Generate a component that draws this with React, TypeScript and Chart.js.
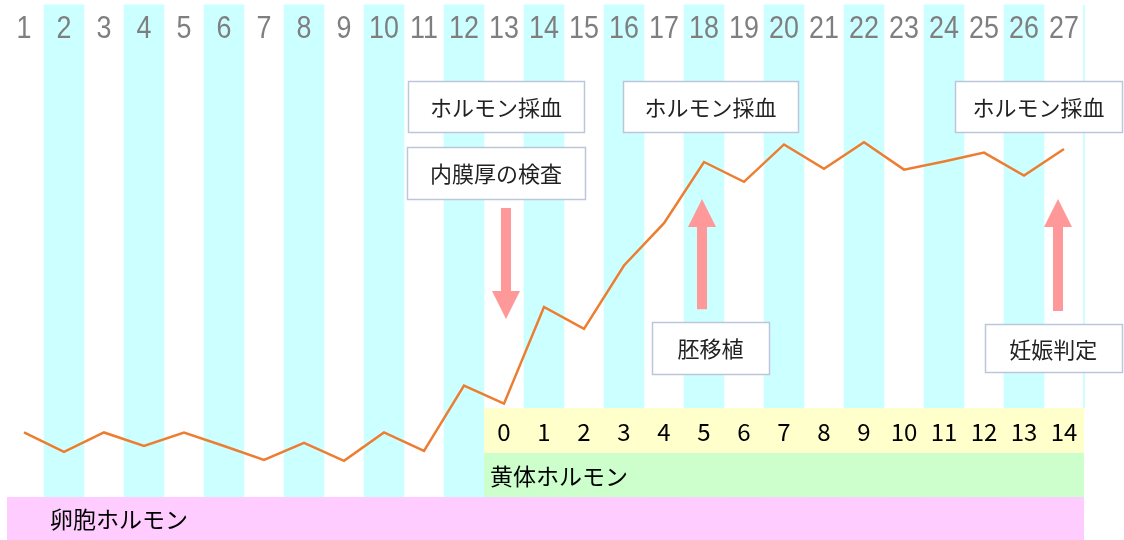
import React, { useEffect, useRef } from 'react';
import { Chart, registerables } from 'chart.js';

Chart.register(...registerables);

// ---- data ----
const DAYS = ['1', '2', '3', '4', '5', '6', '7', '8', '9', '10', '11', '12', '13', '14', '15', '16', '17', '18', '19', '20', '21', '22', '23', '24', '25', '26', '27'];
const HORMONE_LEVEL = [23.9, 19.6, 23.9, 20.9, 23.9, 20.9, 17.8, 21.6, 17.6, 23.9, 19.8, 34.3, 30.3, 51.8, 46.9, 61.0, 70.4, 84.0, 79.6, 87.9, 82.5, 88.4, 82.3, 84.1, 86.1, 81.0, 86.9];
const LUTEAL_DAYS = ['0', '1', '2', '3', '4', '5', '6', '7', '8', '9', '10', '11', '12', '13', '14'];
const LUTEAL_START_INDEX = 12; // day 13
const FOLLICULAR_LABEL = '卵胞ホルモン';
const LUTEAL_LABEL = '黄体ホルモン';
const EVENT_TEXTS = ['ホルモン採血', '内膜厚の検査', 'ホルモン採血', 'ホルモン採血', '胚移植', '妊娠判定'];

// ---- layout (in scale units: x = day index, y = level) ----
const Y_MAX = 120;
const STRIPE_RANGE: [number, number] = [9.56, 118.9];
const YELLOW_RANGE: [number, number] = [19.33, 29.33];
const GREEN_RANGE: [number, number] = [9.56, 19.33];
const PINK_RANGE: [number, number] = [0, 9.56];
const TOP_LABEL_LEVEL = 114;

const BOX_LAYOUT = [
  { cx: 11.8, cy: 96.33, w: 176, h: 51 },
  { cx: 11.8, cy: 81.56, w: 178, h: 52 },
  { cx: 17.16, cy: 96.33, w: 175, h: 51 },
  { cx: 25.36, cy: 96.33, w: 167, h: 51 },
  { cx: 17.16, cy: 42.67, w: 117, h: 52 },
  { cx: 25.73, cy: 42.56, w: 137, h: 48 },
];
const ARROWS = [
  { x: 12.05, from: 73.8, to: 49.1 },
  { x: 16.95, from: 51.3, to: 75.8 },
  { x: 25.85, from: 50.9, to: 75.8 },
];

const CJK = '"Noto Sans CJK JP", "Noto Sans", sans-serif';

const overlay = {
  id: 'overlay',
  afterDatasetDraw(chart: any, args: any) {
    if (args.index !== 1) return;
    const { ctx } = chart;
    const xs = chart.scales.x;
    const ys = chart.scales.y;
    const half = (xs.getPixelForValue(1) - xs.getPixelForValue(0)) / 2;
    const lx = xs.getPixelForValue(LUTEAL_START_INDEX) - half;
    const rx = xs.getPixelForValue(DAYS.length - 1) + half;
    const fx = xs.getPixelForValue(0) - half + 3;
    ctx.save();
    // thin edge of the next stripe at the right border
    ctx.fillStyle = '#CCFFFF';
    const st = ys.getPixelForValue(STRIPE_RANGE[1]);
    ctx.fillRect(rx - 1, st, 2, ys.getPixelForValue(YELLOW_RANGE[1]) - st);
    const band = (x0: number, r: [number, number], color: string) => {
      const y0 = ys.getPixelForValue(r[1]);
      const y1 = ys.getPixelForValue(r[0]);
      ctx.fillStyle = color;
      ctx.fillRect(x0, y0, rx - x0, y1 - y0);
    };
    band(lx, YELLOW_RANGE, '#FFFFCC');
    band(lx, GREEN_RANGE, '#CCFFCC');
    band(fx, PINK_RANGE, '#FFCCFF');

    // luteal day labels
    ctx.fillStyle = '#000';
    ctx.font = '24px ' + CJK;
    ctx.textAlign = 'center';
    ctx.textBaseline = 'middle';
    const ly = ys.getPixelForValue((YELLOW_RANGE[0] + YELLOW_RANGE[1]) / 2);
    LUTEAL_DAYS.forEach((t, i) => {
      ctx.fillText(t, xs.getPixelForValue(LUTEAL_START_INDEX + i), ly + 1);
    });
    // band texts
    ctx.textAlign = 'left';
    ctx.font = '23px ' + CJK;
    ctx.fillText(LUTEAL_LABEL, lx + 6, ys.getPixelForValue((GREEN_RANGE[0] + GREEN_RANGE[1]) / 2) + 1);
    ctx.fillText(FOLLICULAR_LABEL, 50, ys.getPixelForValue((PINK_RANGE[0] + PINK_RANGE[1]) / 2) + 1);
    ctx.restore();
  },
  afterDatasetsDraw(chart: any) {
    const { ctx } = chart;
    const xs = chart.scales.x;
    const ys = chart.scales.y;
    ctx.save();
    // top day labels
    ctx.fillStyle = '#7F7F7F';
    ctx.font = '32px "Liberation Sans", Arial, sans-serif';
    ctx.textAlign = 'center';
    ctx.textBaseline = 'middle';
    const ty = ys.getPixelForValue(TOP_LABEL_LEVEL);
    DAYS.forEach((d, i) => {
      ctx.save();
      ctx.translate(xs.getPixelForValue(i), ty + 2);
      ctx.scale(0.84, 1);
      ctx.fillText(d, 0, 0);
      ctx.restore();
    });

    // arrows
    ctx.fillStyle = '#FF9999';
    ARROWS.forEach((a) => {
      const x = xs.getPixelForValue(a.x);
      const y0 = ys.getPixelForValue(a.from);
      const y1 = ys.getPixelForValue(a.to);
      const dir = y1 > y0 ? 1 : -1;
      const headLen = 28;
      const headHalf = 14;
      const shaftHalf = 5;
      const hb = y1 - dir * headLen;
      ctx.beginPath();
      ctx.moveTo(x - shaftHalf, y0);
      ctx.lineTo(x + shaftHalf, y0);
      ctx.lineTo(x + shaftHalf, hb);
      ctx.lineTo(x + headHalf, hb);
      ctx.lineTo(x, y1);
      ctx.lineTo(x - headHalf, hb);
      ctx.lineTo(x - shaftHalf, hb);
      ctx.closePath();
      ctx.fill();
    });

    // boxes
    ctx.font = '22px ' + CJK;
    ctx.textAlign = 'center';
    ctx.textBaseline = 'middle';
    BOX_LAYOUT.forEach((b, i) => {
      const cx = xs.getPixelForValue(b.cx);
      const cy = ys.getPixelForValue(b.cy);
      const x0 = Math.round(cx - b.w / 2) + 0.5;
      const y0 = Math.round(cy - b.h / 2) + 0.5;
      ctx.fillStyle = '#FFFFFF';
      ctx.fillRect(x0, y0, b.w, b.h);
      ctx.strokeStyle = '#BCC6DA';
      ctx.lineWidth = 1.5;
      ctx.strokeRect(x0, y0, b.w, b.h);
      ctx.fillStyle = '#222222';
      ctx.fillText(EVENT_TEXTS[i], cx, cy + 1);
    });
    ctx.restore();
  },
};

export default function App() {
  const ref = useRef<HTMLCanvasElement>(null);
  useEffect(() => {
    const chart = new Chart(ref.current as HTMLCanvasElement, {
      type: 'bar',
      data: {
        labels: DAYS,
        datasets: [
          {
            type: 'line',
            data: HORMONE_LEVEL,
            borderColor: '#ED7D31',
            borderWidth: 2.5,
            pointRadius: 0,
            tension: 0,
            fill: false,
            order: 0,
          } as any,
          {
            type: 'bar',
            data: DAYS.map((_, i) => (i % 2 === 1 ? STRIPE_RANGE : null)),
            backgroundColor: '#CCFFFF',
            borderWidth: 0,
            barPercentage: 1,
            categoryPercentage: 1,
            order: 1,
          } as any,
        ],
      },
      options: {
        responsive: false,
        animation: false,
        events: [],
        layout: { padding: { left: 4, right: 40, top: 0, bottom: 0 } },
        plugins: { legend: { display: false }, tooltip: { enabled: false } },
        scales: {
          x: { display: false, offset: true },
          y: { display: false, min: 0, max: Y_MAX },
        },
      },
      plugins: [overlay],
    });
    return () => chart.destroy();
  }, []);
  return (
    <div style={{ position: 'absolute', left: 0, top: 0, width: 1124, height: 540, background: '#fff' }}>
      <canvas ref={ref} width={1124} height={540} />
    </div>
  );
}
